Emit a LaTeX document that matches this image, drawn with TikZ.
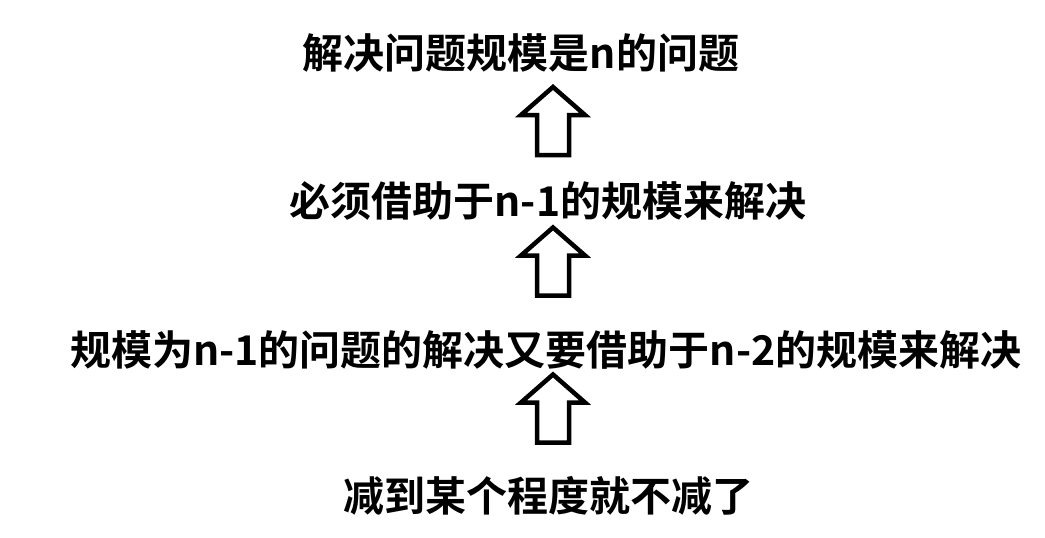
\documentclass[tikz,border=0pt]{standalone}
\usepackage{fontspec}
\newfontfamily\cjk{Noto Sans CJK SC}[BoldFont={Noto Sans CJK SC Bold}]

\tikzset{
  txt/.style={inner sep=0pt, font=\cjk\bfseries\fontsize{41}{48}\selectfont},
  hollow arrow/.pic={
    \draw[line width=4.5pt, miter limit=10]
      (0,28) -- (32,0) -- (16,0) -- (16,-40) -- (-16,-40) -- (-16,0) -- (-32,0) -- cycle;
  }
}

\begin{document}
\begin{tikzpicture}[x=1pt, y=1pt]
    \fill[white] (0,0) rectangle (1045,-538);
    \useasboundingbox (0,0) rectangle (1045,-538);

    % Text lines
    \node (goal)  [txt] at (521,-53)  {解决问题规模是n的问题};
    \node (step1) [txt] at (548,-201) {必须借助于n-1的规模来解决};
    \node (step2) [txt] at (546,-350) {规模为n-1的问题的解决又要借助于n-2的规模来解决};
    \node (base)  [txt] at (548,-496) {减到某个程度就不减了};

    % Arrows
    \coordinate (a1) at (553,-115);
    \coordinate (a2) at (553,-255.5);
    \coordinate (a3) at (553,-402.5);
    \pic at (a1) {hollow arrow};
    \pic at (a2) {hollow arrow};
    \pic at (a3) {hollow arrow};
\end{tikzpicture}
\end{document}
